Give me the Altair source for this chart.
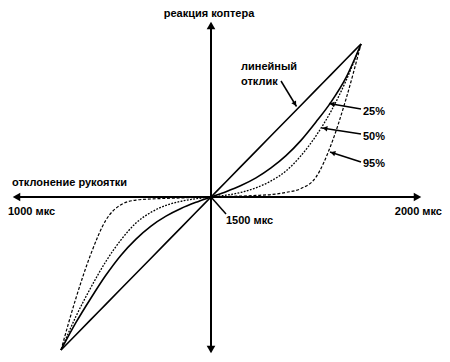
import math
import altair as alt
import pandas as pd

# ---- curve data (normalized stick deflection -> copter response) ----
x_vals = [-1.0, -0.9, -0.8, -0.7, -0.6, -0.5, -0.4, -0.3, -0.2, -0.1, 0.0,
          0.1, 0.2, 0.3, 0.4, 0.5, 0.6, 0.7, 0.8, 0.9, 1.0]
y_linear = [-1.0, -0.9, -0.8, -0.7, -0.6, -0.5, -0.4, -0.3, -0.2, -0.1, 0.0,
            0.1, 0.2, 0.3, 0.4, 0.5, 0.6, 0.7, 0.8, 0.9, 1.0]
y_25 = [-1.0, -0.82, -0.66, -0.51, -0.38, -0.275, -0.19, -0.125, -0.075, -0.035, 0.0,
        0.035, 0.075, 0.125, 0.19, 0.27, 0.37, 0.49, 0.62, 0.78, 1.0]
y_50 = [-1.0, -0.78, -0.59, -0.42, -0.28, -0.17, -0.10, -0.055, -0.028, -0.011, 0.0,
        0.012, 0.03, 0.06, 0.105, 0.17, 0.27, 0.40, 0.56, 0.76, 1.0]
y_95 = [-1.0, -0.66, -0.37, -0.15, -0.05, -0.02, -0.013, -0.009, -0.006, -0.003, 0.0,
        0.003, 0.006, 0.01, 0.016, 0.03, 0.055, 0.13, 0.34, 0.64, 1.0]

labels_text = ["реакция коптера", "отклонение рукоятки", "1000 мкс", "2000 мкс",
               "1500 мкс", "линейный", "отклик", "25%", "50%", "95%"]

# ---- layout helpers (pixel positions in the page -> data units) ----
W, H = 434, 346
CX, CY = 211.0, 197.0          # origin on the page
UX, UY = 150.0, 153.0          # pixels per unit
OX, OY = 8.0, 8.0              # page margin


def dx(px):
    return (px - CX) / UX


def dy(py):
    return (CY - py) / UY


x_dom = [dx(OX), dx(OX + W)]
y_dom = [dy(OY + H), dy(OY)]
xs = alt.Scale(domain=x_dom, nice=False, zero=False)
ys = alt.Scale(domain=y_dom, nice=False, zero=False)

FONT = "Liberation Sans"

# curves
rows = []
for name, ys_ in [("lin", y_linear), ("25", y_25), ("50", y_50), ("95", y_95)]:
    for xv, yv in zip(x_vals, ys_):
        rows.append({"curve": name, "x": xv, "y": yv})
cdf = pd.DataFrame(rows)


def curve(name, width, dash=None):
    kw = dict(color="black", strokeWidth=width, interpolate="monotone")
    if dash:
        kw["strokeDash"] = dash
    return alt.Chart(cdf[cdf.curve == name]).mark_line(**kw).encode(
        x=alt.X("x:Q", scale=xs, axis=None),
        y=alt.Y("y:Q", scale=ys, axis=None),
    )


# axes (with arrow heads)
axes_df = pd.DataFrame([
    {"x": dx(16), "x2": dx(418), "y": 0.0, "y2": 0.0},
    {"x": 0.0, "x2": 0.0, "y": dy(25), "y2": dy(350)},
])
axes = alt.Chart(axes_df).mark_rule(color="black", strokeWidth=2).encode(
    x=alt.X("x:Q", scale=xs, axis=None), x2="x2",
    y=alt.Y("y:Q", scale=ys, axis=None), y2="y2")


def head(tip, frm, back):
    ddx, ddy = tip[0] - frm[0], tip[1] - frm[1]
    L = math.hypot(ddx, ddy)
    ux, uy = ddx / L, ddy / L
    cx, cy = tip[0] - ux * back, tip[1] - uy * back
    ang = math.degrees(math.atan2(ux, -uy)) % 360
    return {"x": dx(cx), "y": dy(cy), "angle": ang}


axis_heads = pd.DataFrame([
    head((211, 21), (211, 100), 4.5),
    head((211, 354), (211, 300), 4.5),
    head((12, 197), (100, 197), 4.5),
    head((422, 197), (300, 197), 4.5),
])
axis_head_marks = alt.Chart(axis_heads).mark_point(
    shape="triangle-up", filled=True, color="black", size=75, opacity=1).encode(
    x=alt.X("x:Q", scale=xs, axis=None), y=alt.Y("y:Q", scale=ys, axis=None),
    angle=alt.Angle("angle:Q", scale=None))

# leader lines
leaders = [
    ("lin", (281, 81), (296.5, 106.5), True),
    ("25", (361, 109), (329, 103.5), True),
    ("50", (361, 134), (322, 128), True),
    ("95", (361, 162), (330, 152), True),
    ("1500", (211, 197), (226, 214), False),
]
lrows, hrows = [], []
for i, (nm, a, b, arrow) in enumerate(leaders):
    lrows.append({"id": nm, "o": 0, "x": dx(a[0]), "y": dy(a[1])})
    lrows.append({"id": nm, "o": 1, "x": dx(b[0]), "y": dy(b[1])})
    if arrow:
        hrows.append(head(b, a, 3))
ldf = pd.DataFrame(lrows)
leader_lines = alt.Chart(ldf).mark_line(color="black", strokeWidth=1.5).encode(
    x=alt.X("x:Q", scale=xs, axis=None), y=alt.Y("y:Q", scale=ys, axis=None),
    detail="id:N", order="o:Q")
leader_heads = alt.Chart(pd.DataFrame(hrows)).mark_point(
    shape="triangle-up", filled=True, color="black", size=30, opacity=1).encode(
    x=alt.X("x:Q", scale=xs, axis=None), y=alt.Y("y:Q", scale=ys, axis=None),
    angle=alt.Angle("angle:Q", scale=None))

# labels
pos = [
    (209, 14, "center"),
    (12, 183, "left"),
    (8, 212, "left"),
    (442, 212, "right"),
    (226, 221, "left"),
    (241, 67, "left"),
    (241, 82, "left"),
    (363, 112, "left"),
    (363, 137, "left"),
    (363, 164, "left"),
]
tdf = pd.DataFrame([{"t": t, "x": dx(p[0]), "y": dy(p[1]), "al": p[2]}
                    for t, p in zip(labels_text, pos)])


def txt(al):
    return alt.Chart(tdf[tdf.al == al]).mark_text(
        align=al, baseline="middle", font=FONT, fontSize=11,
        fontWeight="bold", color="black").encode(
        x=alt.X("x:Q", scale=xs, axis=None), y=alt.Y("y:Q", scale=ys, axis=None),
        text="t:N")


chart = alt.layer(
    axes, axis_head_marks,
    curve("lin", 1.6), curve("25", 1.6), curve("50", 1.3, [1.8, 1.4]),
    curve("95", 1.2, [3, 1.8]),
    leader_lines, leader_heads,
    txt("left"), txt("center"), txt("right"),
).properties(width=W, height=H, padding=0,
             autosize=alt.AutoSizeParams(type="none")
).configure_view(stroke=None)

chart.save("out.html", embed_options={"renderer": "svg", "actions": False})
